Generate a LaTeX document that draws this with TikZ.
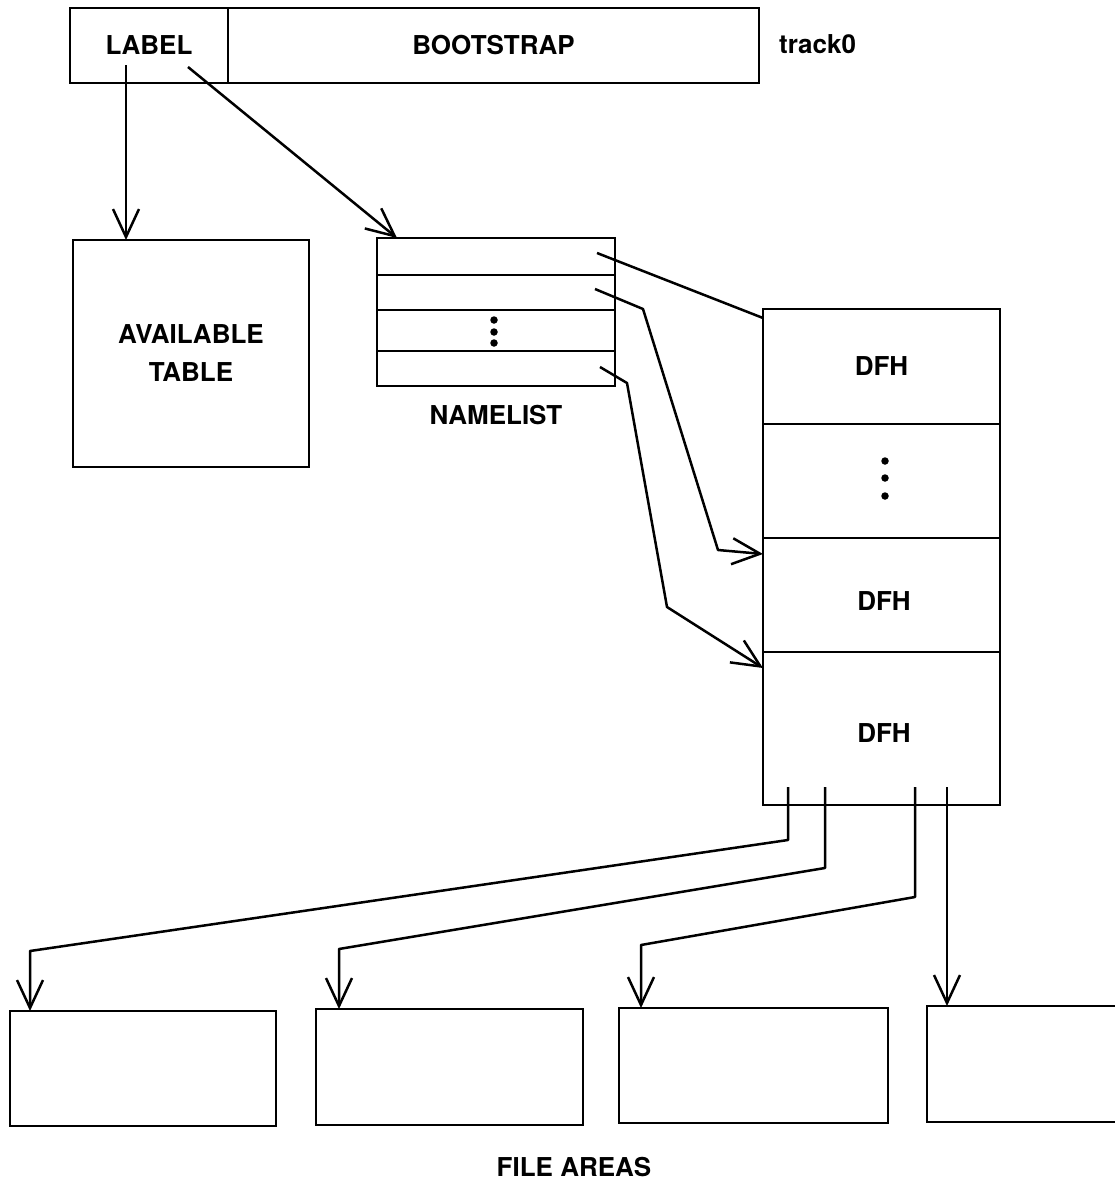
\documentclass[tikz,border=0pt]{standalone}
\usepackage{fontspec}
\setmainfont{TeX Gyre Heros}
\usetikzlibrary{arrows.meta,calc}
\begin{document}
\begin{tikzpicture}[x=1pt,y=-1pt,
  box/.style={draw, line width=2.5pt, inner sep=0pt, outer sep=0pt, anchor=north west, font=\bfseries\fontsize{26}{38}\selectfont, align=center},
  lbl/.style={font=\bfseries\fontsize{26}{30}\selectfont, inner sep=0pt},
  conn/.style={line width=2.5pt, line join=round, -{Straight Barb[length=28pt,width=26pt,line width=2.5pt]}},
  plain/.style={line width=2.5pt, line join=round},
  dot/.style={fill, circle, inner sep=0pt, minimum size=7.5pt}]
\useasboundingbox (0,0) rectangle (1115,1184);
% top strip
\node[box, minimum width=158pt, minimum height=75pt] (label) at (70,8) {LABEL};
\node[box, minimum width=531pt, minimum height=75pt] (boot) at (228,8) {BOOTSTRAP};
\node[lbl, anchor=west] (track) at (779,44) {track0};
% available table
\node[box, minimum width=236pt, minimum height=227pt] (avail) at (73,240) {AVAILABLE\\TABLE};
% namelist
\node[box, minimum width=238pt, minimum height=37pt] (nl1) at (377,238) {};
\node[box, minimum width=238pt, minimum height=35pt] (nl2) at (377,275) {};
\node[box, minimum width=238pt, minimum height=41pt] (nl3) at (377,310) {};
\node[box, minimum width=238pt, minimum height=35pt] (nl4) at (377,351) {};
\node[dot] (nd1) at (494,320) {};
\node[dot] (nd2) at (494,332) {};
\node[dot] (nd3) at (494,343) {};
\node[lbl] (nlname) at (496,415) {NAMELIST};
% DFH column
\node[box, minimum width=237pt, minimum height=115pt] (d1) at (763,309) {DFH};
\node[box, minimum width=237pt, minimum height=114pt] (d2) at (763,424) {};
\node[box, minimum width=237pt, minimum height=114pt] (d3) at (763,538) {};
\node[box, minimum width=237pt, minimum height=153pt] (d4) at (763,652) {};
\node[lbl] (t3) at (884,601) {DFH};
\node[lbl] (t4) at (884,733) {DFH};
\node[dot] (dd1) at (885,461) {};
\node[dot] (dd2) at (885,478) {};
\node[dot] (dd3) at (885,496) {};
% file areas
\node[box, minimum width=266pt, minimum height=115pt] (f1) at (10,1011) {};
\node[box, minimum width=267pt, minimum height=116pt] (f2) at (316,1009) {};
\node[box, minimum width=269pt, minimum height=115pt] (f3) at (619,1008) {};
\node[box, minimum width=220pt, minimum height=116pt] (f4) at (927,1006) {};
\node[lbl] (fa) at (574,1167) {FILE AREAS};
% start coordinates
\coordinate (s1) at (126,65);
\coordinate (s2) at (188,67);
\coordinate (n1) at (597,253);
\coordinate (n2) at (595,289);
\coordinate (n3) at (600,367);
\coordinate (b1) at (788,787);
\coordinate (b2) at (825,787);
\coordinate (b3) at (915,787);
\coordinate (b4) at (947,787);
\coordinate (k1) at (30,951);
\coordinate (k2) at (339,949);
\coordinate (k3) at (641,945);
% connectors
\draw[conn] (s1) -- (s1 |- avail.north);
\draw[conn] (s2) -- ($(nl1.north west)+(20,0)$);
\draw[plain] (n1) -- ($(d1.north west)+(0,9)$);
\draw[conn] (n2) -- (643,309) -- (718,550) -- ($(d3.north west)+(0,16)$);
\draw[conn] (n3) -- (627,383) -- (667,607) -- ($(d4.north west)+(0,16)$);
\draw[conn] (b1) -- (788,840) -- (k1) -- (k1 |- f1.north);
\draw[conn] (b2) -- (825,868) -- (k2) -- (k2 |- f2.north);
\draw[conn] (b3) -- (915,897) -- (k3) -- (k3 |- f3.north);
\draw[conn] (b4) -- (b4 |- f4.north);
\end{tikzpicture}
\end{document}
